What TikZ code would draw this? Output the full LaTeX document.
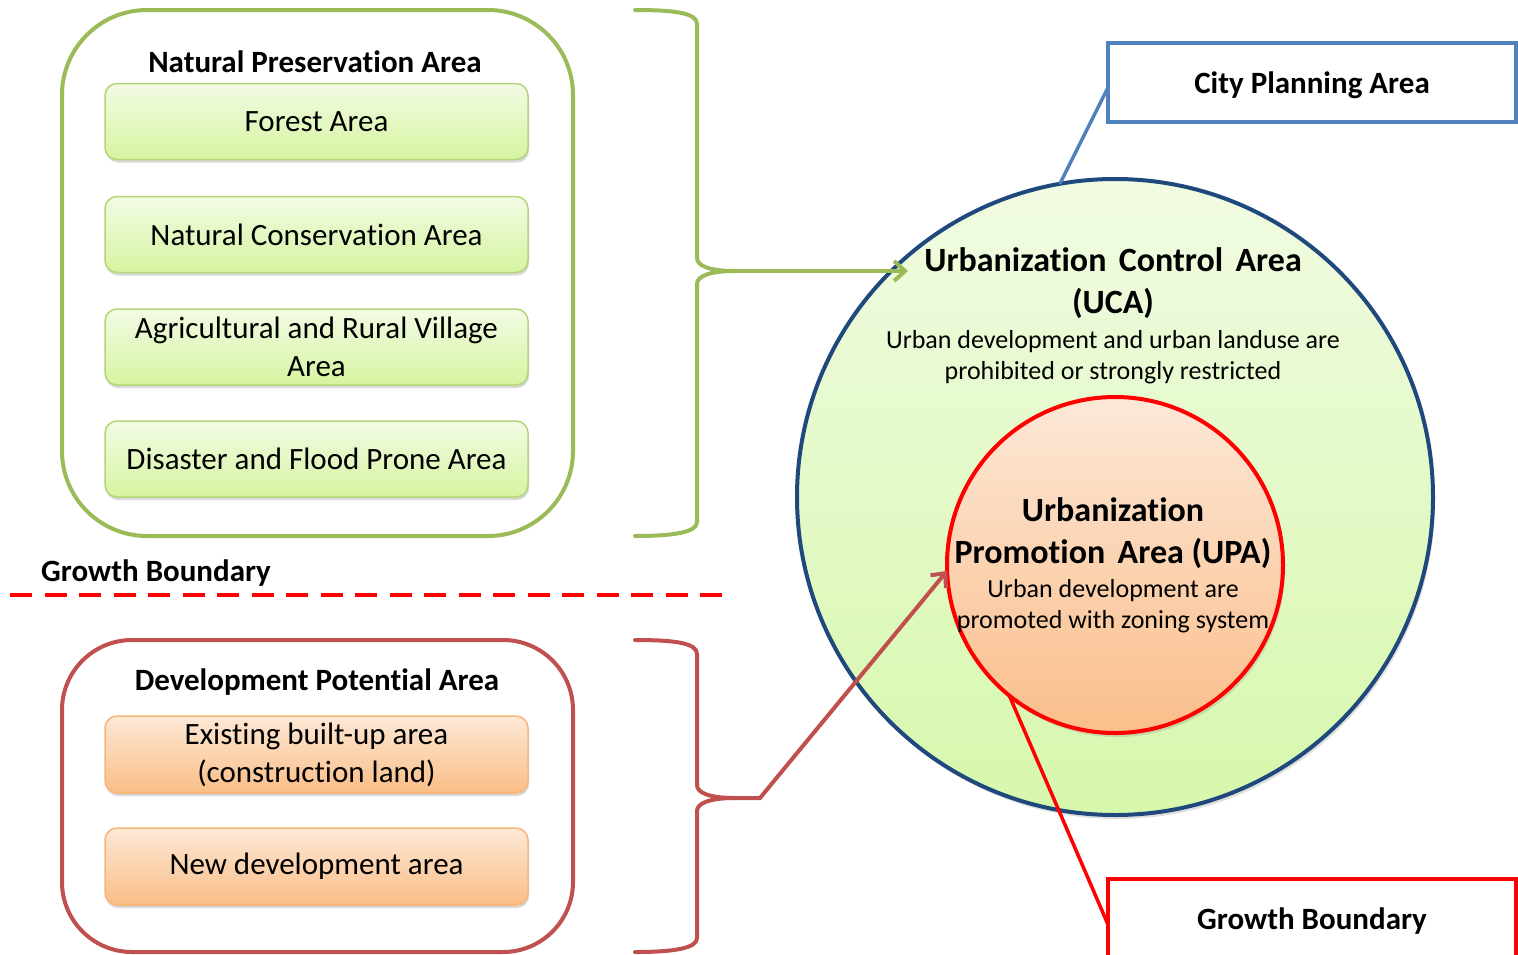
\documentclass[tikz,border=0pt]{standalone}
\usepackage{fontspec}
\setmainfont{Carlito}[Ligatures=NoCommon]
\usetikzlibrary{arrows.meta,shadows}

\definecolor{npgreen}{HTML}{9BBB59}
\definecolor{dpred}{HTML}{C0504D}
\definecolor{cpblue}{HTML}{4F81BD}
\definecolor{ucaedge}{HTML}{1F497D}
\definecolor{gbred}{RGB}{255,0,0}
\definecolor{gtop}{RGB}{242,251,228}
\definecolor{gbot}{RGB}{214,244,160}
\definecolor{gedge}{RGB}{180,212,120}
\definecolor{otop}{RGB}{253,232,214}
\definecolor{obot}{RGB}{250,190,135}
\definecolor{oedge}{RGB}{248,182,122}
\definecolor{ucatop}{RGB}{241,251,226}
\definecolor{ucabot}{RGB}{214,248,172}
\definecolor{upatop}{RGB}{252,232,216}
\definecolor{upabot}{RGB}{250,190,138}

% wide word gap used in the zone titles
\newcommand{\zonegap}{\hspace{12.4pt}}

\tikzset{
  groupbox/.style={line width=4pt, inner sep=0pt, outer sep=0pt,
    minimum width=511pt},
  greengroup/.style={groupbox, draw=npgreen, rounded corners=85pt, minimum height=526pt},
  redgroup/.style={groupbox, draw=dpred, rounded corners=70pt, minimum height=312pt},
  grouptitle/.style={font=\fontsize{31}{38}\selectfont\bfseries, inner sep=0pt},
  itembox/.style={rounded corners=12pt, line width=1.5pt, minimum width=423pt,
    inner sep=0pt, outer sep=0pt, align=center, font=\fontsize{31}{38}\selectfont,
    drop shadow={opacity=0.3, shadow xshift=1pt, shadow yshift=-3pt}},
  greenitem/.style={itembox, draw=gedge, top color=gtop, bottom color=gbot, minimum height=76pt},
  orangeitem/.style={itembox, draw=oedge, top color=otop, bottom color=obot, minimum height=77pt},
  bracestroke/.style={line width=4pt, line cap=round, line join=round},
  linkarrow/.style={line width=4pt, -{Straight Barb[length=11pt,width=20pt,line width=4pt]}},
  boundaryline/.style={draw=gbred, line width=4pt, dash pattern=on 22pt off 12.5pt},
  zone/.style={circle, inner sep=0pt, outer sep=0pt, line width=4pt,
    drop shadow={opacity=0.25, shadow xshift=2pt, shadow yshift=-4pt}},
  ctitle/.style={align=center, inner sep=0pt,
    font=\fontsize{34}{42}\selectfont\bfseries},
  cdesc/.style={align=center, inner sep=0pt, font=\fontsize{26}{31}\selectfont},
  labelbox/.style={draw, line width=4pt, inner sep=0pt, outer sep=0pt,
    minimum width=408pt, minimum height=79pt, text height=26pt, text depth=4pt,
    font=\fontsize{31}{38}\selectfont\bfseries},
}

\begin{document}
\begin{tikzpicture}[x=1pt,y=-1pt]
\useasboundingbox (0,0) rectangle (1518,954);
\clip (0,0) rectangle (1518,954);

% Natural preservation group
\node[greengroup] (npa) at (317.5,273) {};
\node[grouptitle] (npatitle) at (315,61.5) {Natural Preservation Area};
\node[greenitem] (forest) at (316.5,121.5) {Forest Area};
\node[greenitem] (natcons) at (316.5,234.5) {Natural Conservation Area};
\node[greenitem] (agri) at (316.5,347) {Agricultural and Rural Village\\Area};
\node[greenitem] (disaster) at (316.5,459) {Disaster and Flood Prone Area};

% growth boundary on the left
\node[grouptitle, anchor=west] (gbtext) at (41,573) {Growth Boundary};
\coordinate (dashstart) at (10,595);
\coordinate (dashend) at (722,595);
\draw[boundaryline] (dashstart) -- (dashend);

% Development potential group
\node[redgroup] (dpa) at (317.5,796) {};
\node[grouptitle] (dpatitle) at (317,682) {Development Potential Area};
\node[orangeitem] (existing) at (316.5,754.5) {Existing built-up area\\(construction land)};
\node[orangeitem] (newdev) at (316.5,866.5) {New development area};

% zones
\node[zone, draw=ucaedge, top color=ucatop, bottom color=ucabot, minimum size=636pt] (uca) at (1115,497) {};
\node[zone, draw=gbred, top color=upatop, bottom color=upabot, minimum size=336pt] (upa) at (1115,565) {};

\node[ctitle] (ucatitle) at (1113,283.5) {Urbanization\zonegap Control\zonegap Area\\(UCA)};
\node[cdesc] (ucadesc) at (1113,357) {Urban development and urban landuse are\\prohibited or strongly restricted};
\node[ctitle] (upatitle) at (1113,533) {Urbanization\\Promotion\zonegap Area (UPA)};
\node[cdesc] (upadesc) at (1113,606) {Urban development are\\promoted with zoning system};

% braces
\coordinate (gtip) at (735,271);
\coordinate (garrowend) at (908,271);
\draw[bracestroke, draw=npgreen] (635,10) .. controls (675,10) and (697,13) .. (697,24) -- (697,258)
  .. controls (697,266) and (710,271) .. (gtip);
\draw[bracestroke, draw=npgreen] (gtip) .. controls (710,271) and (697,276) .. (697,284) -- (697,522)
  .. controls (697,532) and (675,536) .. (635,536);
\draw[linkarrow, draw=npgreen] (gtip) -- (garrowend);

\coordinate (rtip) at (735,798);
\coordinate (rbend) at (760,798);
\draw[bracestroke, draw=dpred] (635,640) .. controls (675,640) and (697,643) .. (697,654) -- (697,785)
  .. controls (697,793) and (710,798) .. (rtip);
\draw[bracestroke, draw=dpred] (rtip) .. controls (710,798) and (697,803) .. (697,811) -- (697,938)
  .. controls (697,948) and (675,952) .. (635,952);
\draw[linkarrow, draw=dpred, line join=miter] (rtip) -- (rbend) -- (upa.182);

% callout boxes
\node[labelbox, draw=cpblue, fill=white] (cpa) at (1312,82.5) {City Planning Area};
\draw[line width=3.5pt, draw=cpblue] ([yshift=-5pt]cpa.west) -- (uca.100);
\node[labelbox, draw=gbred, fill=white] (gbb) at (1312,918.5) {Growth Boundary};
\draw[line width=3.5pt, draw=gbred] ([yshift=-6pt]gbb.west) -- (upa.231);
\end{tikzpicture}
\end{document}
